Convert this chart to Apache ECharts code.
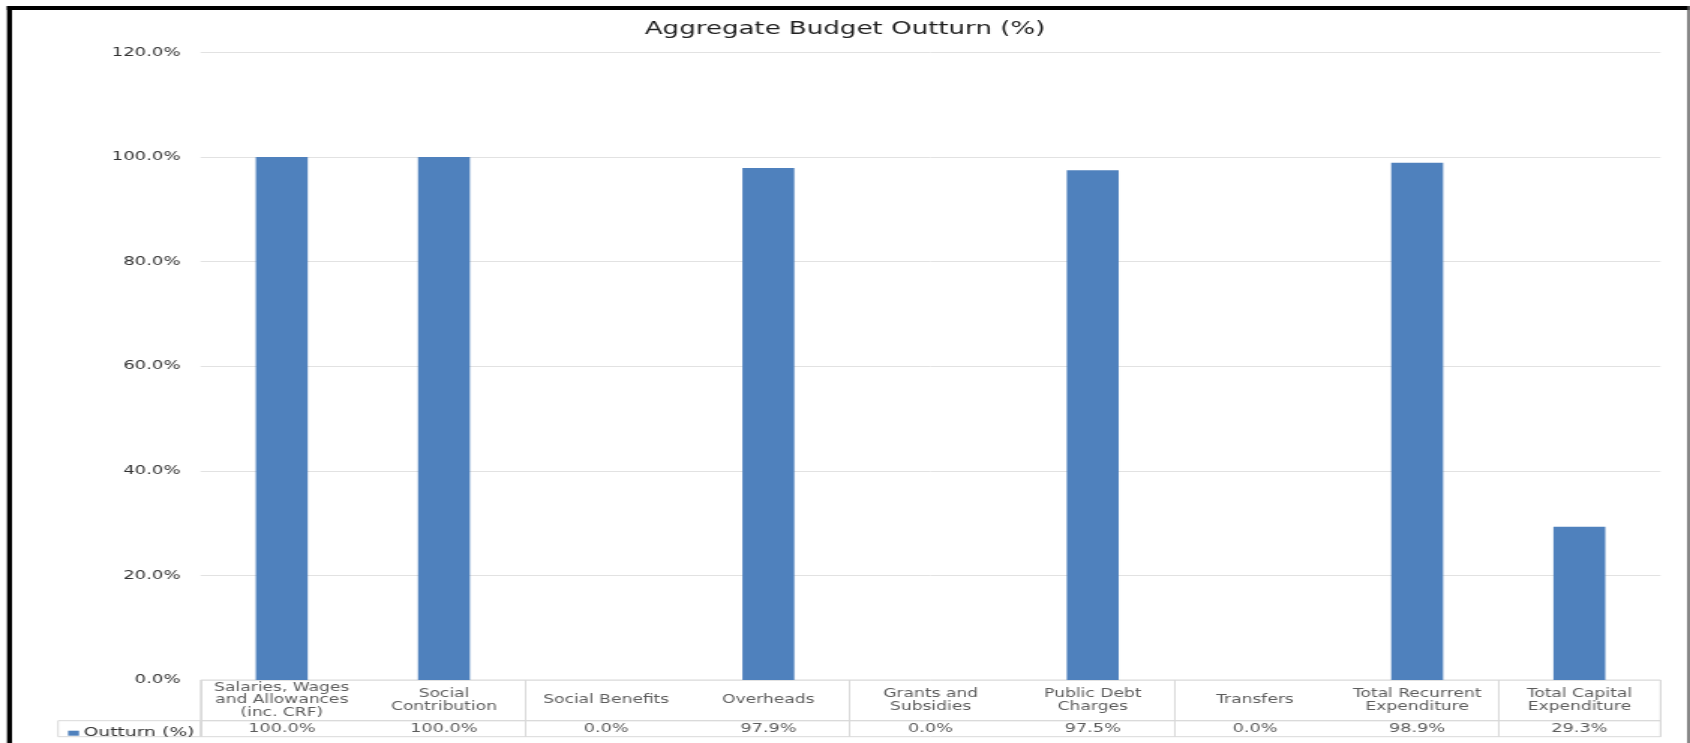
<!DOCTYPE html>
<html>
<head>
<meta charset="utf-8">
<title>Aggregate Budget Outturn (%)</title>
<script src="https://cdn.jsdelivr.net/npm/echarts@6/dist/echarts.min.js"></script>
<style>
  html, body { margin: 0; padding: 0; background: #ffffff; overflow: hidden; }
  #wrap { width: 1690px; height: 743px; overflow: hidden; position: relative; }
  /* the chart is laid out on a narrower canvas and widened to the full page width */
  #chart { width: 1127px; height: 743px; transform: scaleX(1.49956); transform-origin: 0 0; }
</style>
</head>
<body>
<div id="wrap"><div id="chart"></div></div>
<script>
// Budget heads shown along the axis and in the data table
const categories = [
  'Salaries, Wages\nand Allowances\n(inc. CRF)',
  'Social\nContribution',
  'Social Benefits',
  'Overheads',
  'Grants and\nSubsidies',
  'Public Debt\nCharges',
  'Transfers',
  'Total Recurrent\nExpenditure',
  'Total Capital\nExpenditure'
];
// Outturn per head, in percent
const outturn = [100.0, 100.0, 0.0, 97.9, 0.0, 97.5, 0.0, 98.9, 29.3];
const seriesName = 'Outturn (%)';
// Value axis ticks (percent)
const yTicks = [0, 20, 40, 60, 80, 100, 120];

const pct = v => v.toFixed(1) + '%';
const FONT = 'DejaVu Sans';
const TEXT = '#333333';
const LINE = '#d9d9d9';
const BAR = '#4f81bd';

// horizontal layout, in canvas units (the canvas is widened by 1.5 on screen)
const gridLeft = 133.8, gridRight = 19.7;
const tableTop = 680, headH = 40.7, valH = 16;

const chart = echarts.init(document.getElementById('chart'), null, { renderer: 'canvas' });

// one centred text mark per table cell, placed by the table grid's axes
const cellPoints = categories.map((c, i) => [i, 0.5]);

chart.setOption({
  backgroundColor: '#ffffff',
  animation: false,
  textStyle: { fontFamily: FONT },
  title: {
    text: 'Aggregate Budget Outturn (%)',
    left: 'center',
    top: 16,
    textStyle: { fontFamily: FONT, fontSize: 17.4, fontWeight: 'normal', color: '#1f1f1f' }
  },
  legend: {
    data: [seriesName],
    left: 40.4,
    top: tableTop + headH + 1,
    itemWidth: 7.3,
    itemHeight: 5,
    icon: 'rect',
    textStyle: { fontFamily: FONT, fontSize: 12.5, color: TEXT, padding: [0, 0, 0, -2] }
  },
  grid: [
    // plot area
    { left: gridLeft, right: gridRight, top: 52.5, bottom: 743 - tableTop },
    // table header row (category names)
    { left: gridLeft, right: gridRight, top: tableTop, height: headH,
      show: true, borderColor: LINE, borderWidth: 1 },
    // table value row
    { left: gridLeft, right: gridRight, top: tableTop + headH, height: valH,
      show: true, borderColor: LINE, borderWidth: 1 },
    // legend key cell
    { left: 38.7, width: gridLeft - 38.7, top: tableTop + headH, height: valH,
      show: true, borderColor: LINE, borderWidth: 1 }
  ],
  xAxis: [
    { gridIndex: 0, type: 'category', data: categories,
      axisLine: { show: false }, axisTick: { show: false }, axisLabel: { show: false } },
    { gridIndex: 1, type: 'category', data: categories,
      axisLine: { show: false }, axisTick: { show: false }, axisLabel: { show: false },
      splitLine: { show: true, lineStyle: { color: LINE, width: 1 } } },
    { gridIndex: 2, type: 'category', data: categories,
      axisLine: { show: false }, axisTick: { show: false }, axisLabel: { show: false },
      splitLine: { show: true, lineStyle: { color: LINE, width: 1 } } },
    { gridIndex: 3, type: 'category', data: [''], show: false }
  ],
  yAxis: [
    { gridIndex: 0, type: 'value', min: yTicks[0], max: yTicks[yTicks.length - 1], interval: yTicks[1] - yTicks[0],
      axisLine: { show: false }, axisTick: { show: false },
      axisLabel: { formatter: v => pct(v), fontFamily: FONT, fontSize: 12, color: TEXT, margin: 13.5 },
      splitLine: { show: true, lineStyle: { color: '#e2e2e2', width: 1 } } },
    { gridIndex: 1, type: 'value', min: 0, max: 1, show: false },
    { gridIndex: 2, type: 'value', min: 0, max: 1, show: false },
    { gridIndex: 3, type: 'value', min: 0, max: 1, show: false }
  ],
  series: [
    {
      name: seriesName,
      type: 'bar',
      xAxisIndex: 0, yAxisIndex: 0,
      data: outturn,
      barWidth: '32%',
      itemStyle: { color: BAR }
    },
    {
      type: 'scatter',
      xAxisIndex: 1, yAxisIndex: 1,
      data: cellPoints,
      symbolSize: 1,
      itemStyle: { color: 'rgba(0,0,0,0)' },
      silent: true,
      label: {
        show: true, position: 'inside',
        formatter: p => categories[p.dataIndex],
        fontFamily: FONT, fontSize: 11.4, lineHeight: 12.5, color: TEXT, align: 'center'
      }
    },
    {
      type: 'scatter',
      xAxisIndex: 2, yAxisIndex: 2,
      data: cellPoints,
      symbolSize: 1,
      itemStyle: { color: 'rgba(0,0,0,0)' },
      silent: true,
      label: {
        show: true, position: 'inside',
        formatter: p => pct(outturn[p.dataIndex]),
        fontFamily: FONT, fontSize: 11.8, color: TEXT, align: 'center'
      }
    }
  ],
  graphic: [
    // frame: heavy left and top edges, thin right edge
    { type: 'rect', shape: { x: 4.67, y: 6, width: 3.33, height: 737 }, style: { fill: '#000000' }, silent: true },
    { type: 'rect', shape: { x: 4.67, y: 6, width: 1122, height: 4 }, style: { fill: '#000000' }, silent: true },
    { type: 'rect', shape: { x: 1125.3, y: 6, width: 1.4, height: 737 }, style: { fill: '#555555' }, silent: true }
  ]
});
</script>
</body>
</html>
